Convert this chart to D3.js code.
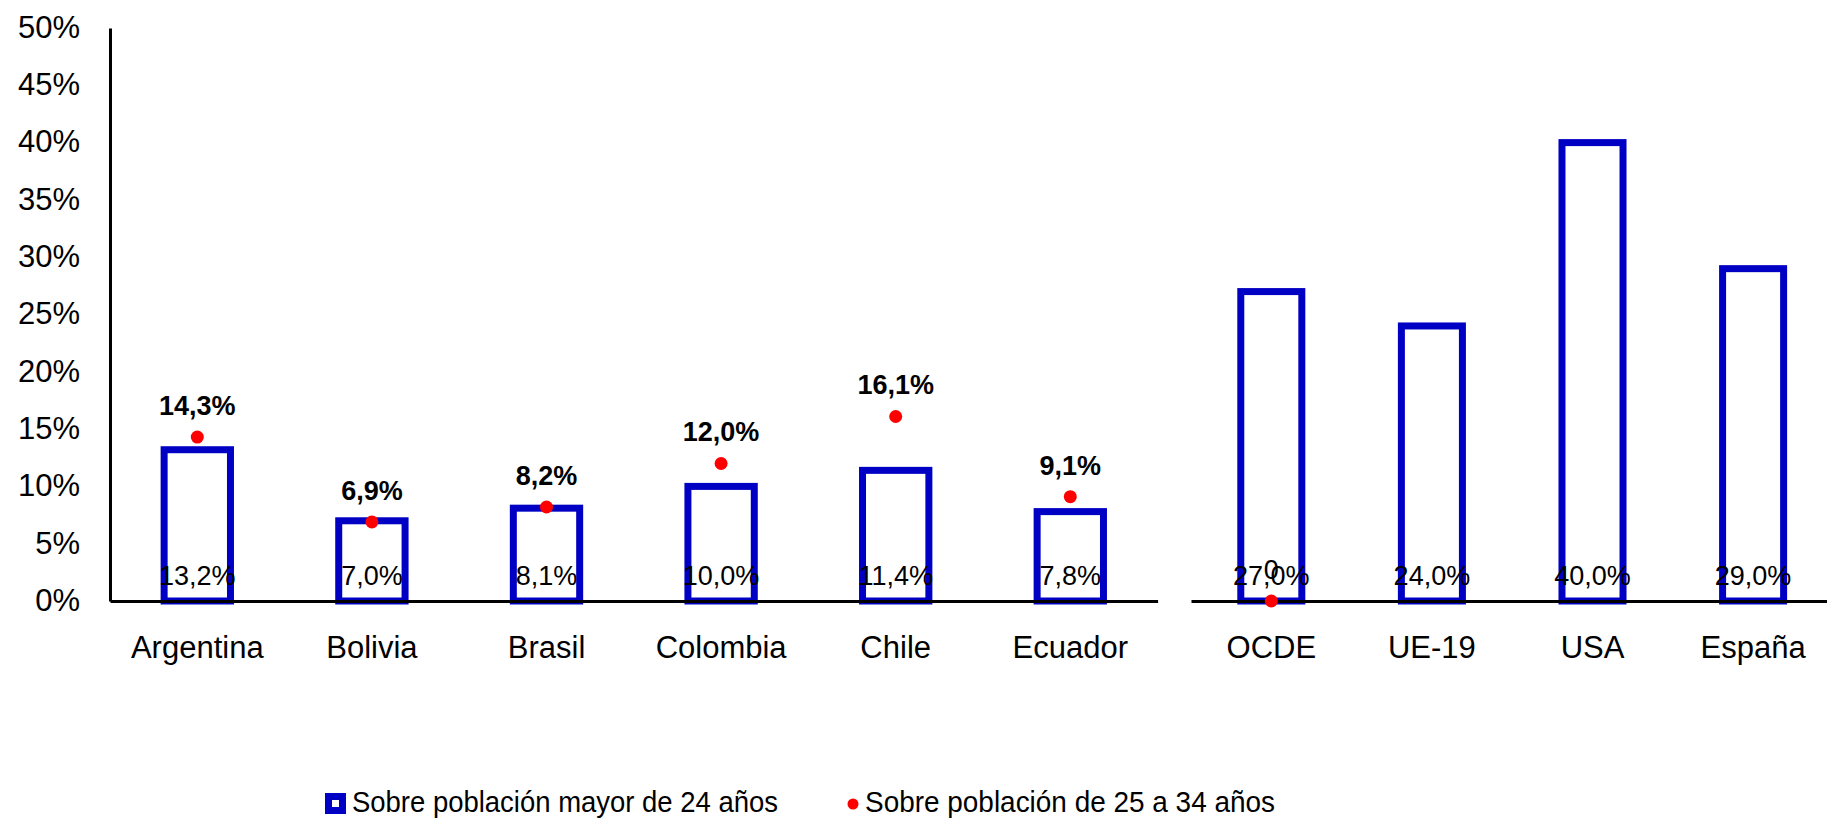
<!DOCTYPE html>
<html>
<head>
<meta charset="utf-8">
<script src="https://cdn.jsdelivr.net/npm/d3@7"></script>
<style>
  body { margin: 0; background: #fff; }
  text { font-family: Arial, "Liberation Sans", sans-serif; fill: #000; }
</style>
</head>
<body>
<div id="chart"></div>
<script>
// values (percent)
var paisesLatam = ["Argentina", "Bolivia", "Brasil", "Colombia", "Chile", "Ecuador"];
var paisesRef = ["OCDE", "UE-19", "USA", "España"];
var mayor24 = [13.2, 7.0, 8.1, 10.0, 11.4, 7.8, 27.0, 24.0, 40.0, 29.0];
var de25a34 = [14.3, 6.9, 8.2, 12.0, 16.1, 9.1, 0, null, null, null];
var yTicks = [0, 5, 10, 15, 20, 25, 30, 35, 40, 45, 50];
var legendLabels = ["Sobre población mayor de 24 años", "Sobre población de 25 a 34 años"];

var width = 1827;
var height = 819;
var blue = "#0000c4";
var red = "#ff0000";

var es = d3.formatLocale({decimal: ",", thousands: ".", grouping: [3], currency: ["", "€"]});
var fmt1 = es.format(".1f");

var svg = d3.select("#chart").append("svg")
  .attr("width", width)
  .attr("height", height);

var y = d3.scaleLinear().domain([0, 50]).range([601, 28]);

// two panels side by side, each with its own band scale
var xLatam = d3.scaleBand().domain(paisesLatam).range([110, 1157.6])
  .paddingInner(0.62).paddingOuter(0.31);
var xRef = d3.scaleBand().domain(paisesRef).range([1191, 1833.4])
  .paddingInner(0.62).paddingOuter(0.31);

var allCats = paisesLatam.concat(paisesRef);
var rows = allCats.map(function(c, i) {
  var sc = i < paisesLatam.length ? xLatam : xRef;
  return {cat: c, x: sc(c), w: sc.bandwidth(), v1: mayor24[i], v2: de25a34[i]};
});

// bars
svg.append("g").selectAll("rect")
  .data(rows)
  .enter().append("rect")
    .attr("x", function(d) { return d.x; })
    .attr("y", function(d) { return y(d.v1); })
    .attr("width", function(d) { return d.w; })
    .attr("height", function(d) { return y(0) - y(d.v1); })
    .attr("fill", "#fff")
    .attr("stroke", blue)
    .attr("stroke-width", 7);

// y axis
var yAxis = svg.append("g")
  .attr("transform", "translate(110,0)")
  .call(d3.axisLeft(y).tickValues(yTicks).tickSize(0).tickPadding(30)
    .tickFormat(function(d) { return d + "%"; }));
yAxis.select(".domain").attr("stroke", "#000").attr("stroke-width", 3);
yAxis.selectAll("text").attr("font-size", 31).attr("font-family", null).attr("dy", "0.3em");

// x axes (one per panel)
[xLatam, xRef].forEach(function(sc) {
  var g = svg.append("g")
    .attr("transform", "translate(0," + y(0) + ")")
    .call(d3.axisBottom(sc).tickSize(0).tickPadding(35));
  g.select(".domain").attr("stroke", "#000").attr("stroke-width", 3);
  g.selectAll("text").attr("font-size", 31).attr("font-family", null);
});

// labels inside bars
svg.append("g").selectAll("text")
  .data(rows)
  .enter().append("text")
    .attr("x", function(d) { return d.x + d.w / 2; })
    .attr("y", 585)
    .attr("text-anchor", "middle")
    .attr("font-size", 27)
    .text(function(d) { return fmt1(d.v1) + "%"; });

// dots
var dots = rows.filter(function(d) { return d.v2 !== null; });
svg.append("g").selectAll("circle")
  .data(dots)
  .enter().append("circle")
    .attr("cx", function(d) { return d.x + d.w / 2; })
    .attr("cy", function(d) { return y(d.v2); })
    .attr("r", 6.5)
    .attr("fill", red);

svg.append("g").selectAll("text")
  .data(dots)
  .enter().append("text")
    .attr("x", function(d) { return d.x + d.w / 2; })
    .attr("y", function(d) { return y(d.v2) - 22; })
    .attr("text-anchor", "middle")
    .attr("font-size", 27)
    .attr("font-weight", function(d) { return d.v2 === 0 ? "normal" : "bold"; })
    .text(function(d) { return d.v2 === 0 ? "0" : fmt1(d.v2) + "%"; });

// legend
var leg = svg.append("g");
leg.append("rect")
  .attr("x", 328.5).attr("y", 796.5)
  .attr("width", 14).attr("height", 14)
  .attr("fill", "#fff").attr("stroke", blue).attr("stroke-width", 7);
leg.append("text")
  .attr("x", 352).attr("y", 812)
  .attr("font-size", 29)
  .attr("textLength", 426).attr("lengthAdjust", "spacingAndGlyphs")
  .text(legendLabels[0]);
leg.append("circle")
  .attr("cx", 853).attr("cy", 804).attr("r", 5.5).attr("fill", red);
leg.append("text")
  .attr("x", 865).attr("y", 812)
  .attr("font-size", 29)
  .attr("textLength", 410).attr("lengthAdjust", "spacingAndGlyphs")
  .text(legendLabels[1]);
</script>
</body>
</html>
